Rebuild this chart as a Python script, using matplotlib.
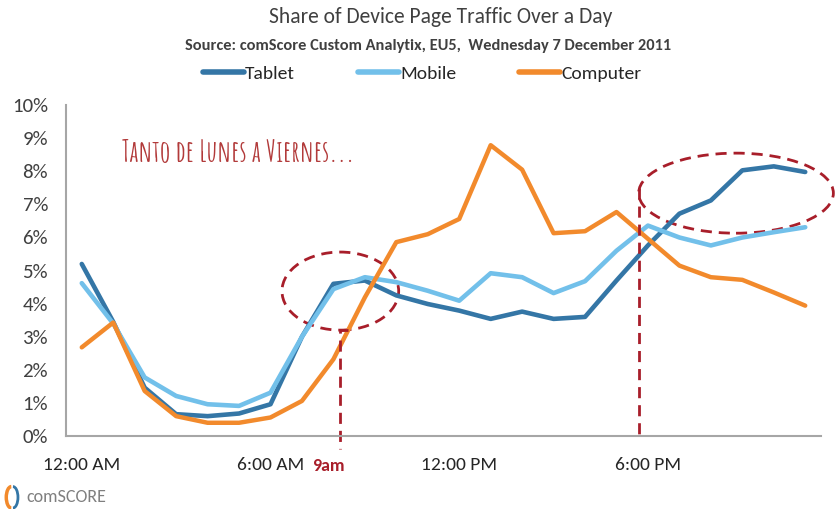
import matplotlib.pyplot as plt
from matplotlib.patches import Ellipse, Arc

# datos (% del trafico por hora)
horas = list(range(24))
tablet = [5.2, 3.45, 1.46, 0.66, 0.6, 0.68, 0.96, 3.0, 4.6, 4.7, 4.25, 3.99, 3.79, 3.54, 3.76, 3.54,
          3.6, 4.7, 5.76, 6.72, 7.12, 8.03, 8.15, 7.98]
mobile = [4.62, 3.4, 1.77, 1.21, 0.96, 0.91, 1.31, 3.0, 4.44, 4.8, 4.65, 4.39, 4.09, 4.92, 4.8, 4.32,
          4.68, 5.6, 6.36, 6.0, 5.76, 6.0, 6.16, 6.31]
computer = [2.68, 3.43, 1.36, 0.6, 0.4, 0.4, 0.56, 1.06, 2.32, 4.19, 5.86, 6.1, 6.56, 8.79, 8.05, 6.13,
            6.19, 6.77, 5.96, 5.15, 4.8, 4.72, 4.34, 3.94]
ticks_x = [0, 6, 12, 18]
etiquetas_x = ["12:00 AM", "6:00 AM", "12:00 PM", "6:00 PM"]
ticks_y = list(range(11))

plt.rcParams['font.family'] = ['Carlito', 'DejaVu Sans']
rojo = '#A81E2A'

fig = plt.figure(figsize=(8.36, 5.09), dpi=100)
ax = fig.add_axes([0.079, 0.1434, 0.903, 0.65])

ax.plot(horas, tablet, color='#3476A6', lw=3.3, label='Tablet', solid_capstyle='round')
ax.plot(horas, mobile, color='#72C0EA', lw=3.3, label='Mobile', solid_capstyle='round')
ax.plot(horas, computer, color='#F28A2C', lw=3.2, label='Computer', solid_capstyle='round')

ax.set_xlim(-0.5, 23.5)
ax.set_ylim(0, 10)
ax.set_xticks(ticks_x)
ax.set_xticklabels(etiquetas_x, fontsize=14, color='#262626')
ax.set_yticks(ticks_y)
ax.set_yticklabels([f"{v}%" for v in ticks_y], fontsize=15, color='#404040')
ax.tick_params(axis='y', length=0, pad=13)
ax.tick_params(axis='x', length=0, pad=15)
for s in ['top', 'right']:
    ax.spines[s].set_visible(False)
for s in ['left', 'bottom']:
    ax.spines[s].set_color('#A6A6A6')
    ax.spines[s].set_linewidth(1.5)

# titulo y leyenda
fig.text(0.527, 0.966, "Share of Device Page Traffic Over a Day", ha='center', va='center',
         fontsize=15.5, color='#404040')
fig.text(0.512, 0.909, "Source: comScore Custom Analytix, EU5,  Wednesday 7 December 2011", ha='center',
         va='center', fontsize=11.8, fontweight='bold', color='#404040')
leg = fig.legend(loc='center', bbox_to_anchor=(0.505, 0.856), ncol=3, frameon=False, fontsize=14,
                 handlelength=2.1, handletextpad=0.05, columnspacing=3.25, labelcolor='#262626')
for h in leg.get_lines():
    h.set_linewidth(4)

# anotaciones
ax.text(1.28, 8.62, "Tanto de Lunes a Viernes...", fontsize=21, color='#B23A3A', va='center',
        family='Amatic SC', fontweight='bold')
kw = dict(color=rojo, lw=2, ls=(0, (4, 2.5)))
ax.add_patch(Ellipse((8.22, 4.38), 3.71, 2.36, fill=False, ec=rojo, lw=2, ls=(0, (4, 2.5)), clip_on=False))
ax.add_patch(Ellipse((20.8, 7.34), 6.19, 2.42, fill=False, ec=rojo, lw=2, ls=(0, (4, 2.5)), clip_on=False))
ax.plot([8.45, 8.2, 8.2], [3.2, 3.2, -0.4], clip_on=False, **kw)
ax.plot([17.7, 17.7], [7.5, 0], clip_on=False, **kw)
ax.text(7.85, -0.9, "9am", ha='center', va='center', fontsize=13, fontweight='bold', color=rojo)

# logo comScore
fig.add_artist(Arc((0.0135, 0.023), 0.012, 0.042, theta1=90, theta2=270, color='#F28A2C', lw=2.5,
                   transform=fig.transFigure))
fig.add_artist(Arc((0.0155, 0.023), 0.012, 0.042, theta1=-90, theta2=90, color='#3476A6', lw=2,
                   transform=fig.transFigure))
fig.text(0.031, 0.023, "comSCORE", fontsize=13, color='#7F7F7F', va='center')

fig.savefig('out.png', dpi=100)
